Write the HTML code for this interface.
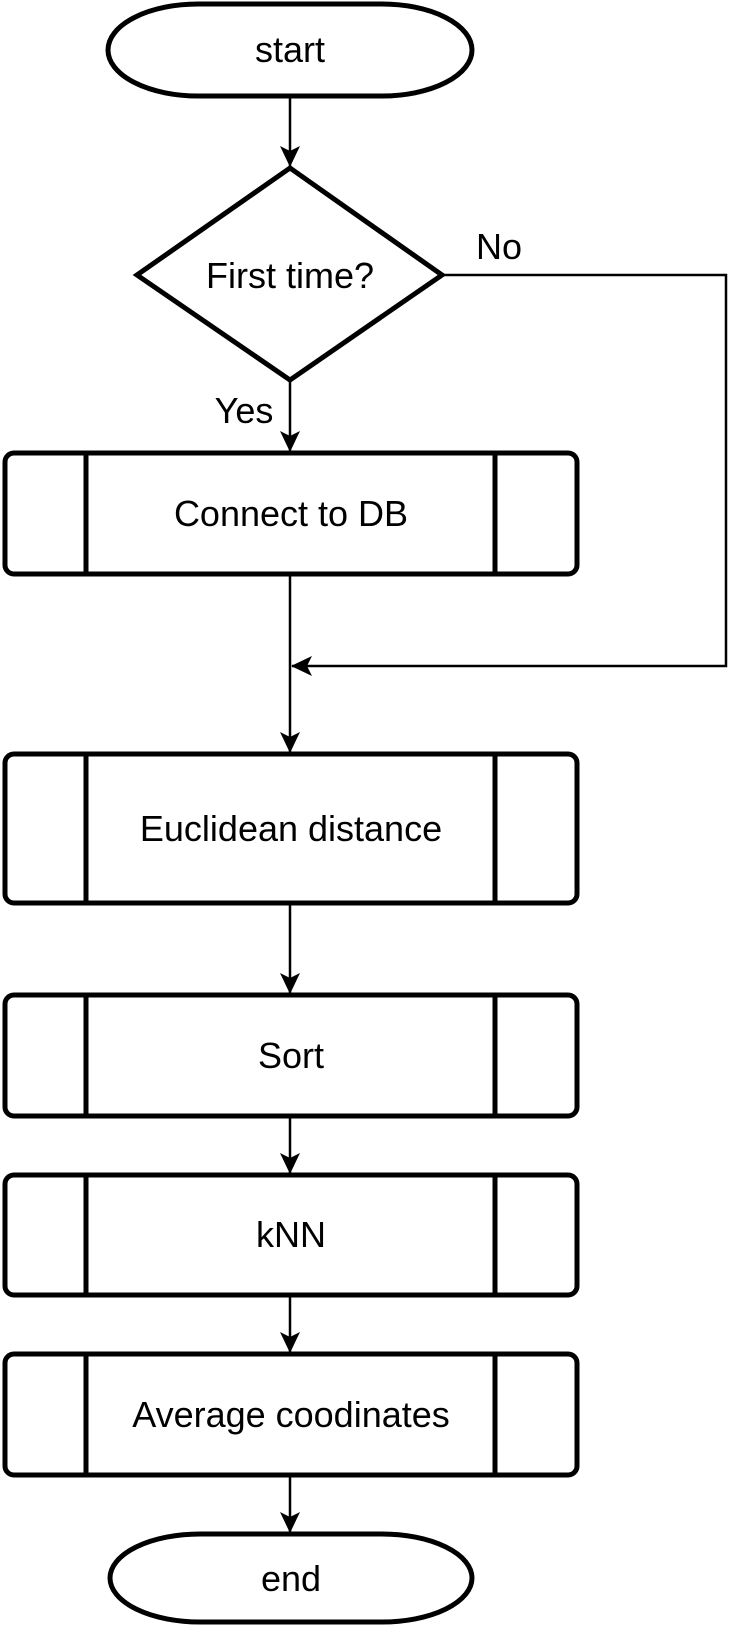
<!DOCTYPE html>
<html><head><meta charset="utf-8"><style>html,body{margin:0;padding:0;background:#fff;}svg{display:block;}</style></head>
<body>
<svg width="756" height="1626" viewBox="0 0 756 1626" xmlns="http://www.w3.org/2000/svg" font-family="Liberation Sans, sans-serif" font-size="36" text-anchor="middle">
<defs>
<marker id="a" markerWidth="22" markerHeight="22" refX="20" refY="11" orient="auto" markerUnits="userSpaceOnUse">
<path d="M0,1 L21,11 L0,21 L5,11 Z" fill="#000"/>
</marker>
</defs>
<g fill="none" stroke="#000" stroke-width="2.5">
<line x1="290" y1="96" x2="290" y2="166" marker-end="url(#a)"/>
<line x1="290" y1="380" x2="290" y2="451" marker-end="url(#a)"/>
<polyline points="443,275 726,275 726,666 292,666" marker-end="url(#a)"/>
<line x1="290" y1="575" x2="290" y2="752" marker-end="url(#a)"/>
<line x1="290" y1="904" x2="290" y2="993" marker-end="url(#a)"/>
<line x1="290" y1="1117" x2="290" y2="1173" marker-end="url(#a)"/>
<line x1="290" y1="1296" x2="290" y2="1352" marker-end="url(#a)"/>
<line x1="290" y1="1476" x2="290" y2="1532" marker-end="url(#a)"/>
</g>
<g fill="#fff" stroke="#000" stroke-width="5">
<rect x="108" y="4" width="364" height="92" rx="90" ry="46"/>
<polygon points="290,168 442,275 290,380 137,275"/>
<rect x="110" y="1534" width="362" height="88" rx="90" ry="44"/>
<rect x="5" y="453" width="572" height="121" rx="9"/>
<rect x="5" y="754" width="572" height="149" rx="9"/>
<rect x="5" y="995" width="572" height="121" rx="9"/>
<rect x="5" y="1175" width="572" height="120" rx="9"/>
<rect x="5" y="1354" width="572" height="121" rx="9"/>
<path d="M86,453V574M495,453V574M86,754V903M495,754V903M86,995V1116M495,995V1116M86,1175V1295M495,1175V1295M86,1354V1475M495,1354V1475"/>
</g>
<g fill="#000">
<text x="290" y="62">start</text>
<text x="290" y="288">First time?</text>
<text x="499" y="259">No</text>
<text x="244" y="423">Yes</text>
<text x="291" y="526">Connect to DB</text>
<text x="291" y="841">Euclidean distance</text>
<text x="291" y="1068">Sort</text>
<text x="291" y="1247">kNN</text>
<text x="291" y="1427">Average coodinates</text>
<text x="291" y="1591">end</text>
</g>
</svg>
</body></html>
